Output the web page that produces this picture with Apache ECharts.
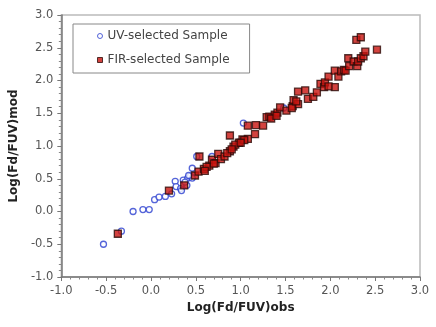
<!DOCTYPE html>
<html>
<head>
<meta charset="utf-8">
<script src="https://cdn.jsdelivr.net/npm/echarts@6/dist/echarts.min.js"></script>
<style>
  html, body { margin: 0; padding: 0; background: #fff; }
  #chart { width: 436px; height: 327px; }
</style>
</head>
<body>
<div id="chart"></div>
<script>
// UV-selected sample: observed vs model log(Fd/FUV)
const uvObs = [-0.53, -0.33, -0.20, -0.09, -0.02, 0.04, 0.09, 0.16, 0.23, 0.27, 0.28, 0.33, 0.34, 0.36, 0.40, 0.41, 0.44, 0.46, 0.46, 0.51, 0.68, 1.03, 1.48, 0.38, 0.42];
const uvMod = [-0.50, -0.30, 0.00, 0.03, 0.03, 0.18, 0.22, 0.23, 0.27, 0.46, 0.38, 0.35, 0.32, 0.48, 0.40, 0.51, 0.54, 0.51, 0.66, 0.84, 0.84, 1.35, 1.58, 0.45, 0.55];

// FIR-selected sample
const firObs = [-0.37, 0.20, 0.37, 0.49, 0.53, 0.54, 0.59, 0.65, 0.68, 0.72, 0.75, 0.78, 0.82, 0.88, 0.92,
  0.88, 0.98, 1.02, 1.08, 1.08, 1.16, 1.17, 1.25, 1.29, 1.32, 1.38, 1.41, 1.44, 1.51, 1.58,
  1.59, 1.64, 1.64, 1.72, 1.75, 1.81, 1.85, 1.89, 1.93, 1.94, 1.98, 2.05, 2.05, 2.09, 2.12,
  2.15, 2.17, 2.20, 2.21, 2.26, 2.30, 2.31, 2.34, 2.37, 2.39, 2.29, 2.34, 2.52, 1.98, 1.34,
  1.40, 0.85, 0.94, 1.04, 0.70, 1.57, 1.62, 1.00, 0.90, 0.62, 0.60];
const firMod = [-0.34, 0.32, 0.40, 0.55, 0.61, 0.84, 0.65, 0.70, 0.79, 0.74, 0.88, 0.80, 0.84, 0.92, 0.99,
  1.16, 1.05, 1.10, 1.11, 1.31, 1.18, 1.32, 1.31, 1.44, 1.45, 1.48, 1.51, 1.59, 1.54, 1.61,
  1.70, 1.83, 1.64, 1.85, 1.72, 1.75, 1.82, 1.95, 1.90, 1.97, 2.06, 1.90, 2.15, 2.06, 2.14,
  2.16, 2.15, 2.34, 2.22, 2.29, 2.22, 2.29, 2.34, 2.37, 2.44, 2.62, 2.66, 2.47, 1.91, 1.42,
  1.46, 0.89, 1.02, 1.09, 0.73, 1.58, 1.68, 1.05, 0.95, 0.68, 0.62];

const axisMin = -1.0;
const axisMax = 3.0;
const axisStep = 0.5;

const uvData = uvObs.map((x, i) => [x, uvMod[i]]);
const firData = firObs.map((x, i) => [x, firMod[i]]);

const chart = echarts.init(document.getElementById('chart'), null, { renderer: 'canvas' });

const tickLabel = {
  color: '#555',
  fontFamily: 'DejaVu Sans',
  fontSize: 11.5,
  formatter: v => v.toFixed(1)
};

const baseAxis = {
  type: 'value',
  min: axisMin,
  max: axisMax,
  interval: axisStep,
  nameLocation: 'middle',
  nameTextStyle: { fontFamily: 'DejaVu Sans', fontWeight: 'bold', fontSize: 12, color: '#222' },
  axisLine: { show: true, onZero: false, lineStyle: { color: '#777', width: 1.5 } },
  axisTick: { show: true, length: 4, lineStyle: { color: '#777' } },
  minorTick: { show: true, splitNumber: 5, length: 2.5, lineStyle: { color: '#888' } },
  splitLine: { show: false },
  axisLabel: tickLabel
};

chart.setOption({
  animation: false,
  grid: {
    left: 61, right: 16, top: 15, bottom: 50,
    show: true, borderColor: '#bbb', borderWidth: 1.5, backgroundColor: '#fff'
  },
  legend: {
    left: 73, top: 24,
    orient: 'vertical',
    backgroundColor: '#fff',
    borderColor: '#888', borderWidth: 1,
    padding: [5, 20, 6, 24],
    itemGap: 10,
    itemWidth: 5, itemHeight: 5,
    textStyle: { fontFamily: 'DejaVu Sans', fontSize: 12, color: '#444', lineHeight: 14 },
    data: [
      { name: 'UV-selected Sample', icon: 'circle', itemStyle: { borderWidth: 1 } },
      { name: 'FIR-selected Sample', icon: 'rect', itemStyle: { borderWidth: 1 } }
    ]
  },
  xAxis: Object.assign({}, baseAxis, {
    name: 'Log(Fd/FUV)obs',
    nameGap: 20
  }),
  yAxis: Object.assign({}, baseAxis, {
    name: 'Log(Fd/FUV)mod',
    nameGap: 33
  }),
  series: [
    {
      name: 'UV-selected Sample',
      type: 'scatter',
      symbol: 'circle',
      symbolSize: 6,
      data: uvData,
      itemStyle: { color: '#fff', borderColor: '#2a3fd0', borderWidth: 1.3 }
    },
    {
      name: 'FIR-selected Sample',
      type: 'scatter',
      symbol: 'rect',
      symbolSize: 7,
      data: firData,
      itemStyle: { color: '#c8140f', borderColor: '#2a0a08', borderWidth: 1.3 }
    }
  ]
});
</script>
</body>
</html>
